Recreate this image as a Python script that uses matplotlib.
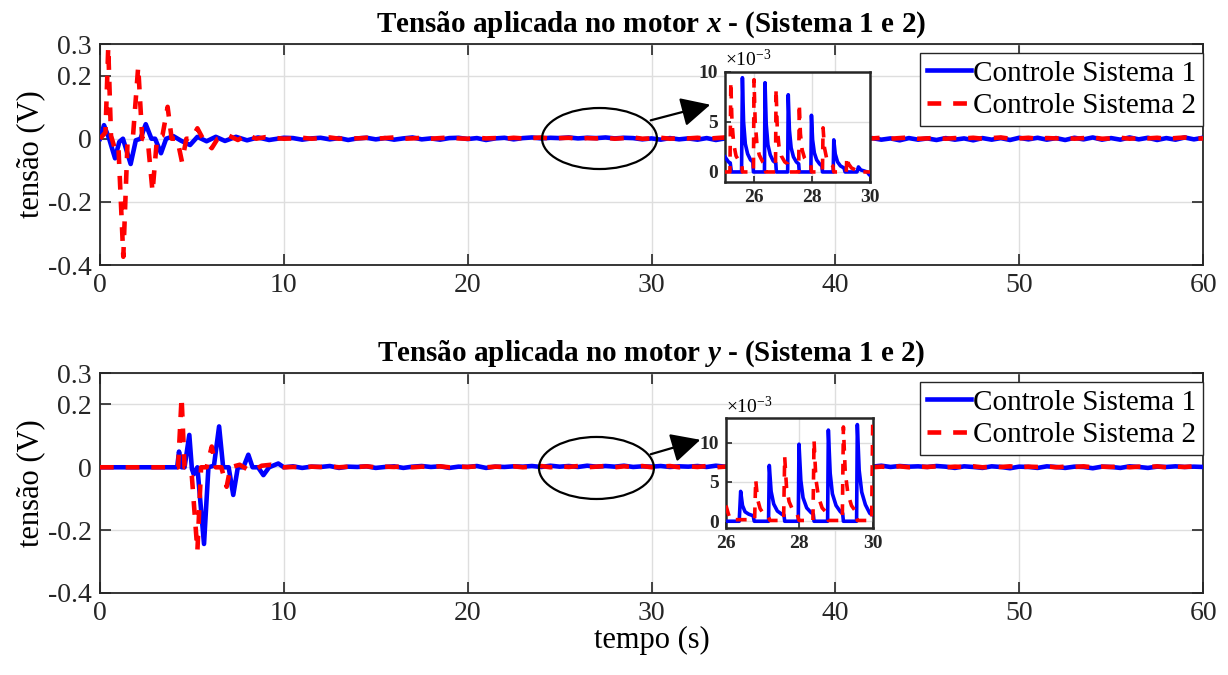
import numpy as np
import matplotlib.pyplot as plt
from matplotlib.patches import Ellipse, FancyArrowPatch

plt.rcParams['font.family'] = ['Liberation Serif', 'DejaVu Serif']
plt.rcParams['mathtext.fontset'] = 'custom'
plt.rcParams['mathtext.rm'] = 'Liberation Serif'
plt.rcParams['mathtext.it'] = 'Liberation Serif:italic:bold'
plt.rcParams['mathtext.bf'] = 'Liberation Serif:bold'

# ---- motor x, transient (s, V) ----
tx_s1 = [0, 0.22, 0.5, 0.82, 1.05, 1.25, 1.67, 1.95, 2.2, 2.49, 2.8, 3.0, 3.32, 3.6, 4.0, 4.4, 4.9,
         5.3, 5.8, 6.3, 6.8, 7.4, 8.0, 8.6, 9.2, 10]
vx_s1 = [0, 0.043, 0.0, -0.062, -0.01, 0.0, -0.08, -0.005, 0.0, 0.046, 0.0, 0.0, -0.046, 0.0, 0.008,
         -0.006, -0.02, 0.006, -0.008, 0.006, -0.007, 0.006, -0.005, 0.004, -0.004, 0.003]
tx_s2 = [0, 0.3, 0.45, 0.6, 0.8, 1.0, 1.27, 1.5, 1.8, 2.08, 2.3, 2.6, 2.86, 3.1, 3.4, 3.68, 3.9, 4.2,
         4.46, 4.7, 5.0, 5.3, 5.6, 6.08, 6.4, 7.0, 7.5, 8.0, 8.5, 9.0, 10]
vx_s2 = [0, 0.02, 0.29, 0.01, -0.03, -0.02, -0.374, -0.01, 0.01, 0.228, 0.0, -0.005, -0.168, 0.0, 0.01,
         0.101, 0.0, 0.0, -0.073, 0.0, 0.0, 0.033, 0.0, -0.03, 0.0, 0.01, -0.004, 0.012, 0.0, 0.005, 0.0]

# ---- motor y, transient (s, V) ----
ty_s1 = [0, 4.0, 4.2, 4.3, 4.45, 4.6, 4.86, 5.0, 5.1, 5.3, 5.66, 5.9, 6.2, 6.48, 6.7, 7.0, 7.25, 7.5,
         7.8, 8.07, 8.3, 8.6, 8.89, 9.2, 9.7, 10]
vy_s1 = [0, 0, 0.0, 0.05, 0.0, 0.0, 0.103, -0.005, -0.022, 0.0, -0.244, 0.0, 0.005, 0.13, 0.0, 0.0,
         -0.088, 0.0, 0.0, 0.04, 0.0, 0.0, -0.025, 0.0, 0.012, 0.0]
ty_s2 = [0, 4.25, 4.44, 4.6, 4.8, 5.0, 5.3, 5.5, 5.8, 6.08, 6.3, 6.6, 6.89, 7.1, 7.6, 8.0, 8.4, 8.8,
         9.3, 10]
vy_s2 = [0, 0, 0.223, 0.0, 0.0, -0.03, -0.266, 0.0, 0.0, 0.066, 0.0, 0.0, -0.062, 0.0, 0.008, -0.006,
         -0.008, 0.005, 0.008, 0.0]

# ---- residual oscillation after 10 s (V), sampled every 0.5 s from 10.5 to 60 ----
t_res = [10.5 + 0.5 * k for k in range(100)]
rx_s1 = [0.002, -0.003, 0.001, 0.003, -0.002, 0.002, -0.004, 0.001, 0.003, -0.002,
         0.002, -0.003, 0.001, 0.004, -0.002, 0.001, -0.003, 0.002, 0.003, -0.001,
         0.002, -0.004, 0.001, 0.003, -0.002, 0.002, 0.004, 0.001, 0.003, 0.002,
         0.004, 0.001, 0.003, 0.002, 0.004, 0.001, 0.003, 0.002, -0.002, 0.001,
         -0.003, 0.002, -0.002, 0.001, -0.003, 0.002, -0.004, 0.001, -0.002, 0.003,
         -0.003, 0.002, -0.004, 0.001, -0.002, 0.003, -0.003, 0.002, -0.004, 0.002,
         -0.003, 0.001, -0.004, 0.002, -0.003, 0.001, -0.005, 0.002, -0.003, 0.001,
         -0.004, 0.002, -0.003, 0.001, -0.005, 0.002, -0.003, 0.002, -0.004, 0.003,
         -0.002, 0.003, -0.003, 0.002, -0.004, 0.003, -0.002, 0.004, -0.003, 0.002,
         -0.003, 0.004, -0.002, 0.003, -0.004, 0.002, -0.003, 0.004, -0.002, 0.003]
rx_s2 = [0.001, 0.003, 0.0, 0.002, 0.004, 0.0, 0.002, 0.001, 0.003, 0.0,
         0.002, 0.004, 0.0, 0.001, 0.003, 0.0, 0.002, 0.004, 0.001, 0.0,
         0.003, 0.001, 0.002, 0.0, 0.003, 0.001, 0.002, 0.004, 0.0, 0.002,
         0.003, 0.0, 0.002, 0.001, 0.003, 0.0, 0.002, 0.004, 0.0, 0.001,
         0.003, 0.0, 0.002, 0.001, 0.003, 0.0, 0.002, 0.004, 0.0, 0.001,
         0.003, 0.0, 0.002, 0.001, 0.003, 0.0, 0.002, 0.004, 0.0, 0.001,
         0.003, 0.0, 0.002, 0.001, 0.003, 0.0, 0.002, 0.004, 0.0, 0.001,
         0.003, 0.0, 0.002, 0.001, 0.003, 0.0, 0.002, 0.004, 0.0, 0.001,
         0.003, 0.0, 0.002, 0.001, 0.003, 0.0, 0.002, 0.004, 0.0, 0.001,
         0.003, 0.0, 0.002, 0.001, 0.003, 0.0, 0.002, 0.004, 0.0, 0.001]
ry_s1 = [0.003, -0.002, 0.002, 0.001, 0.004, -0.002, 0.002, 0.001, 0.003, -0.002,
         0.001, 0.003, -0.002, 0.002, 0.004, 0.001, 0.003, -0.002, 0.002, 0.001,
         0.004, -0.002, 0.002, 0.001, 0.003, 0.002, 0.004, 0.001, 0.005, 0.002,
         0.004, 0.001, 0.005, 0.002, 0.004, 0.002, 0.005, 0.001, 0.003, 0.002,
         0.004, 0.001, 0.003, 0.002, 0.004, 0.001, 0.005, 0.002, 0.003, 0.001,
         0.004, 0.002, 0.003, 0.001, 0.004, 0.002, 0.005, 0.001, 0.003, 0.002,
         0.004, 0.001, 0.003, 0.002, 0.005, 0.001, 0.004, 0.002, 0.003, 0.001,
         0.004, 0.002, -0.002, 0.003, 0.001, -0.002, 0.003, 0.001, -0.003, 0.002,
         0.001, -0.002, 0.003, 0.001, -0.002, 0.002, 0.001, -0.003, 0.002, 0.001,
         -0.002, 0.003, 0.001, -0.002, 0.002, 0.001, 0.003, 0.001, 0.002, 0.001]
ry_s2 = [0.001, 0.0, 0.002, 0.001, 0.003, 0.0, 0.002, 0.001, 0.003, 0.0,
         0.002, 0.001, 0.003, 0.0, 0.002, 0.001, 0.003, 0.0, 0.002, 0.001,
         0.003, 0.0, 0.002, 0.001, 0.003, 0.0, 0.002, 0.004, 0.0, 0.003,
         0.001, 0.004, 0.0, 0.002, 0.004, 0.0, 0.003, 0.001, 0.004, 0.0,
         0.002, 0.004, 0.0, 0.003, 0.001, 0.004, 0.0, 0.002, 0.004, 0.0,
         0.003, 0.001, 0.004, 0.0, 0.002, 0.004, 0.0, 0.003, 0.001, 0.004,
         0.0, 0.002, 0.003, 0.0, 0.002, 0.001, 0.003, 0.0, 0.002, 0.001,
         0.003, 0.0, 0.002, 0.001, 0.003, 0.0, 0.002, 0.001, 0.003, 0.0,
         0.002, 0.001, 0.003, 0.0, 0.002, 0.001, 0.003, 0.0, 0.002, 0.001,
         0.003, 0.0, 0.002, 0.001, 0.003, 0.0, 0.002, 0.001, 0.003, 0.0]

# ---- zoom windows (s, x1e-3 V) ----
zx_t1 = [25.0, 25.12, 25.18, 25.22, 25.57, 25.60, 25.64, 25.70, 25.78, 25.88, 25.96, 25.98,
         26.36, 26.38, 26.42, 26.48, 26.56, 26.66, 26.75, 26.77,
         27.16, 27.18, 27.22, 27.28, 27.36, 27.46, 27.54, 27.56,
         27.96, 27.98, 28.02, 28.08, 28.16, 28.26, 28.34, 28.36,
         28.73, 28.75, 28.80, 28.88, 28.98, 29.10, 29.14,
         29.55, 29.60, 29.68, 29.80, 29.90, 29.98, 30.0]
zx_v1 = [1.5, 1.0, 0.9, 0, 0, 9.4, 5.0, 2.8, 1.8, 1.2, 1.0, 0,
         0, 8.9, 4.8, 2.7, 1.7, 1.1, 0.9, 0,
         0, 7.7, 4.2, 2.4, 1.5, 1.0, 0.8, 0,
         0, 5.65, 3.2, 1.9, 1.2, 0.8, 0.6, 0,
         0, 3.2, 1.8, 1.0, 0.6, 0.4, 0,
         0, 0.5, 0.2, 0.1, 0, -0.3, -0.3]
zx_t2 = [25.0, 25.17, 25.20, 25.24, 25.30, 25.38, 25.50, 25.58, 25.60,
         25.98, 26.0, 26.04, 26.10, 26.18, 26.30, 26.38, 26.40,
         26.74, 26.76, 26.80, 26.86, 26.94, 27.06, 27.16, 27.18,
         27.54, 27.56, 27.60, 27.66, 27.74, 27.86, 27.96, 27.98,
         28.36, 28.38, 28.43, 28.50, 28.60, 28.72, 28.75,
         29.18, 29.20, 29.26, 29.36, 29.50, 29.55, 30.0]
zx_v2 = [0, 0, 9.0, 5.0, 2.8, 1.6, 1.0, 0.8, 0,
         0, 9.2, 5.0, 2.8, 1.7, 1.0, 0.8, 0,
         0, 8.3, 4.5, 2.6, 1.6, 1.0, 0.8, 0,
         0, 6.8, 3.8, 2.2, 1.4, 0.9, 0.7, 0,
         0, 4.4, 2.4, 1.4, 0.9, 0.6, 0,
         0, 1.5, 0.8, 0.4, 0.2, 0, 0]

zy_t1 = [26.0, 26.36, 26.40, 26.45, 26.52, 26.62, 26.74, 26.77,
         27.16, 27.18, 27.23, 27.30, 27.40, 27.52, 27.58, 27.60,
         27.97, 27.99, 28.04, 28.10, 28.20, 28.32, 28.38, 28.40,
         28.77, 28.79, 28.84, 28.90, 29.00, 29.12, 29.18, 29.20,
         29.56, 29.58, 29.63, 29.70, 29.80, 29.92, 30.0]
zy_v1 = [0, 0, 3.8, 2.0, 1.2, 0.9, 0.7, 0,
         0, 7.1, 3.8, 2.2, 1.3, 0.9, 0.8, 0,
         0, 9.8, 5.2, 3.0, 1.7, 1.1, 0.9, 0,
         0, 11.6, 6.1, 3.5, 2.0, 1.2, 1.0, 0,
         0, 12.3, 6.5, 3.7, 2.1, 1.0, 0.8]
zy_t2 = [26.0, 26.06, 26.12, 26.78, 26.81, 26.86, 26.93, 27.03, 27.15, 27.20,
         27.57, 27.60, 27.65, 27.72, 27.82, 27.94, 27.99,
         28.37, 28.40, 28.45, 28.52, 28.62, 28.74, 28.79,
         29.17, 29.20, 29.25, 29.32, 29.42, 29.54, 29.58,
         29.97, 30.0]
zy_v2 = [2.0, 1.0, 0.2, 0.2, 5.3, 2.8, 1.6, 0.9, 0.6, 0.1,
         0.1, 8.2, 4.3, 2.5, 1.4, 0.9, 0.1,
         0.1, 10.3, 5.4, 3.1, 1.7, 1.1, 0.1,
         0.1, 12.0, 6.3, 3.6, 2.0, 1.2, 0.1,
         0.1, 13.0]

titles = ['Tensão aplicada no motor $x$ - (Sistema 1 e 2)',
          'Tensão aplicada no motor $y$ - (Sistema 1 e 2)']
labels = ['Controle Sistema 1', 'Controle Sistema 2']

BLUE = '#0000FF'
RED = '#FF0000'
DASH = (3.0, 2.6)

fig = plt.figure(figsize=(12.28, 6.75), dpi=100)
ax1 = fig.add_axes([0.0814, 0.6074, 0.8983, 0.3274])
ax2 = fig.add_axes([0.0814, 0.1215, 0.8983, 0.3259])


def style_axes(ax, fs=20, bold=False):
    ax.tick_params(direction='in', length=8, width=1.2, labelsize=fs, pad=6,
                   top=True, right=True, colors='#262626')
    ax.grid(True, color='#DEDEDE', lw=1.0)
    ax.set_axisbelow(True)
    for s in ax.spines.values():
        s.set_color('#262626')
        s.set_linewidth(1.3)
    if bold:
        for lab in ax.get_xticklabels() + ax.get_yticklabels():
            lab.set_fontweight('bold')


panels = [
    (ax1, tx_s1 + t_res, vx_s1 + rx_s1, tx_s2 + t_res, vx_s2 + rx_s2, titles[0]),
    (ax2, ty_s1 + t_res, vy_s1 + ry_s1, ty_s2 + t_res, vy_s2 + ry_s2, titles[1]),
]
for ax, t1, v1, t2, v2, title in panels:
    ax.plot(t1, v1, color=BLUE, lw=3.3, label=labels[0], zorder=3)
    ax.plot(t2, v2, color=RED, lw=3.3, dashes=DASH, label=labels[1], zorder=4)
    ax.set_xlim(0, 60)
    ax.set_ylim(-0.4, 0.3)
    ax.set_xticks([0, 10, 20, 30, 40, 50, 60])
    ax.set_yticks([-0.4, -0.2, 0, 0.2, 0.3])
    ax.set_yticklabels(['-0.4', '-0.2', '0', '0.2', '0.3'])
    ax.set_ylabel('tensão (V)', fontsize=22, labelpad=2)
    ax.set_title(title, fontsize=21, fontweight='bold', pad=9)
    style_axes(ax)
    leg = ax.legend(loc='upper right', bbox_to_anchor=(1.0, 0.96), borderaxespad=0,
                    fontsize=21, handlelength=1.5, handletextpad=0.05,
                    labelspacing=0.2, borderpad=0.25, fancybox=False, framealpha=1,
                    edgecolor='#262626')
    leg.get_frame().set_linewidth(1.0)
    leg.set_zorder(10)

ax2.set_xlabel('tempo (s)', fontsize=22, labelpad=0)

# insets
in1 = fig.add_axes([0.5904, 0.7304, 0.1181, 0.1634])
in1.plot(zx_t1, zx_v1, color=BLUE, lw=2.6, zorder=3)
in1.plot(zx_t2, zx_v2, color=RED, lw=2.6, dashes=DASH, zorder=4)
in1.set_xlim(25, 30)
in1.set_ylim(-1.0, 10)
in1.set_xticks([26, 28, 30])
in1.set_yticks([0, 5, 10])

in2 = fig.add_axes([0.5912, 0.2173, 0.1195, 0.1630])
in2.plot(zy_t1, zy_v1, color=BLUE, lw=2.6, zorder=3)
in2.plot(zy_t2, zy_v2, color=RED, lw=2.6, dashes=DASH, zorder=4)
in2.set_xlim(26, 30)
in2.set_ylim(-0.9, 13.1)
in2.set_xticks([26, 28, 30])
in2.set_yticks([0, 5, 10])

for ax in (in1, in2):
    style_axes(ax, fs=14, bold=True)
    ax.tick_params(length=4, pad=5, top=False, right=False)
    for s in ax.spines.values():
        s.set_linewidth(1.8)
    ax.text(0.0, 1.01, r'$\times\mathregular{10^{-3}}$', transform=ax.transAxes,
            fontsize=14, ha='left', va='bottom')

# ellipses and arrows (figure fraction)
for (cx, cy, w, h), (x0, y0, x1, y1) in [
        ((0.4882, 0.7948, 0.0936, 0.0904), (0.5277, 0.8207, 0.5806, 0.8459)),
        ((0.4857, 0.3067, 0.0936, 0.0919), (0.5277, 0.3259, 0.5725, 0.3496))]:
    fig.add_artist(Ellipse((cx, cy), w, h, transform=fig.transFigure, fill=False,
                           ec='black', lw=1.6, zorder=20))
    fig.add_artist(FancyArrowPatch((x0, y0), (x1, y1), transform=fig.transFigure,
                                   arrowstyle='-|>,head_length=0.9,head_width=0.45',
                                   color='black', lw=1.6, mutation_scale=20, zorder=20))

fig.savefig('out.png', dpi=100)
